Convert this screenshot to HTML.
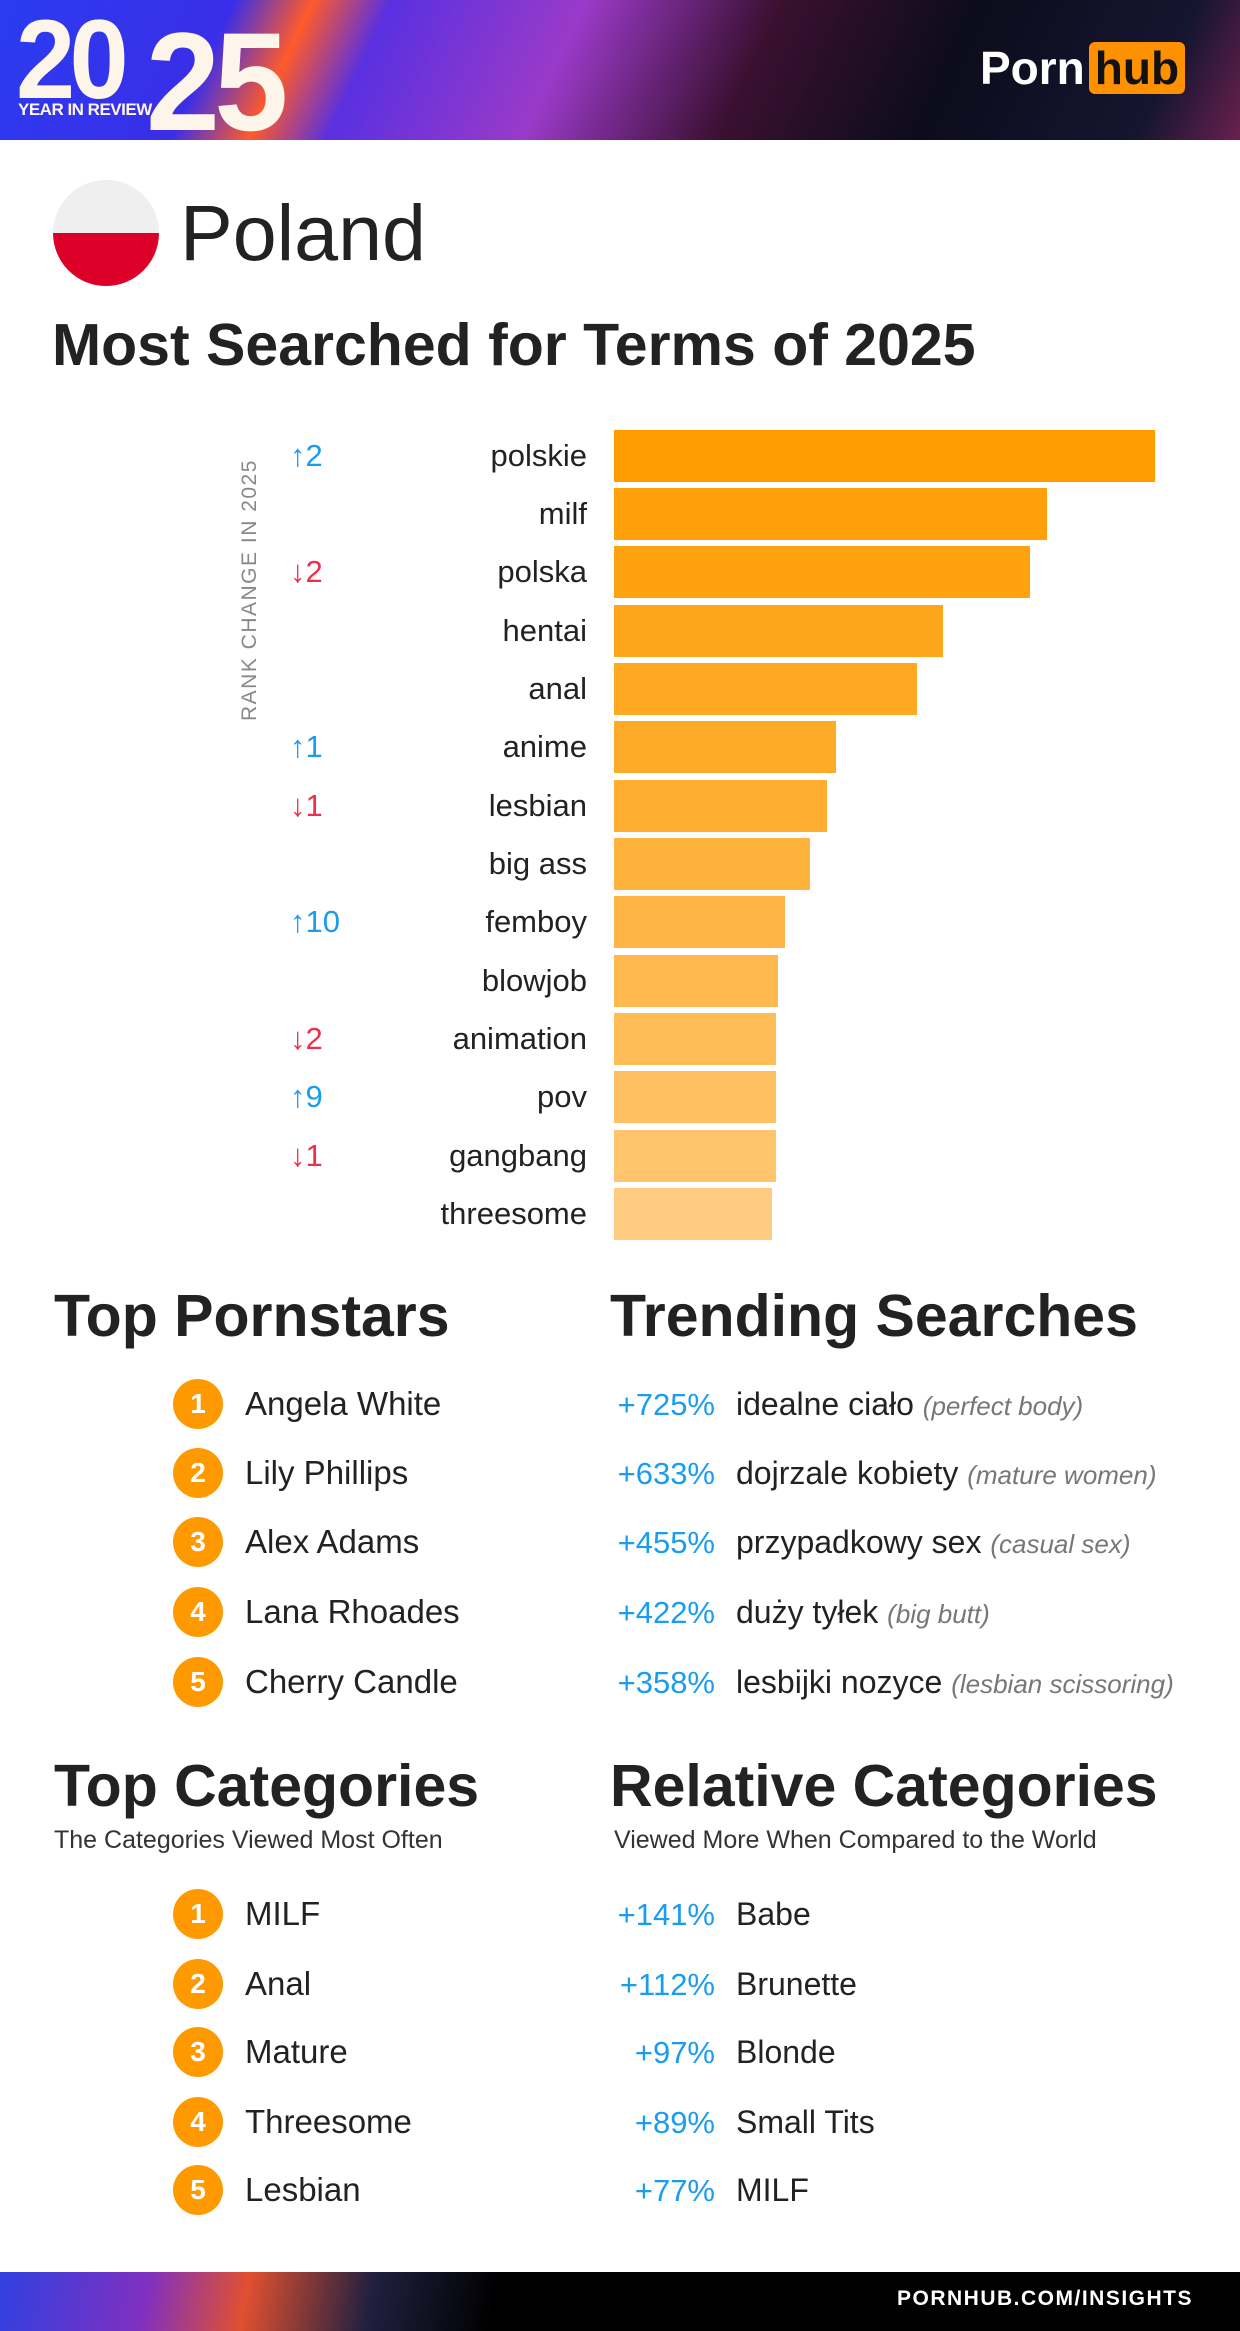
<!DOCTYPE html>
<html><head><meta charset="utf-8"><style>
*{margin:0;padding:0;box-sizing:border-box}
body{width:1240px;height:2331px;background:#fff;font-family:"Liberation Sans",sans-serif;color:#222;position:relative;overflow:hidden}
.a{position:absolute;white-space:nowrap}
.hdr{position:absolute;left:0;top:0;width:1240px;height:140px;background:linear-gradient(115deg,#2a3cf0 0%,#3a2ee8 18%,#ff5a2a 24%,#5a30e0 30%,#9a3ac8 45%,#3a1030 60%,#0c0c1c 75%,#151530 92%,#6a2050 100%)}
.bar{position:absolute;left:614px;height:52px}
.lbl{position:absolute;right:653px;font-size:31px;line-height:52px;color:#222}
.rc{position:absolute;left:290px;font-size:31px;line-height:52px}
.up{color:#1a9cf0}.dn{color:#f0304a}
.h2{font-size:59px;font-weight:bold;color:#222}
.num{position:absolute;left:173px;width:50px;height:50px;border-radius:50%;background:#ff9900;color:#fff;font-weight:bold;font-size:28px;text-align:center;line-height:50px}
.it{font-size:33px}
.pc{position:absolute;right:525px;font-size:31px;color:#1a9cf0}
.tm{position:absolute;left:736px;font-size:32px}
.tm i{font-size:26px;color:#777}
.lg{font-weight:bold;color:#fdf5ea;letter-spacing:-6px;transform:scaleX(0.95);transform-origin:left top}
</style></head><body>
<div class="hdr"></div>
<div class="a lg" style="left:16px;top:10px;font-size:112px;line-height:100px">20</div>
<div class="a lg" style="left:146px;top:18px;font-size:140px;line-height:128px">25</div>
<div class="a" style="left:18px;top:100px;font-size:17px;font-weight:bold;color:#fdf5ea;letter-spacing:-0.5px">YEAR IN REVIEW</div>
<div class="a" style="left:980px;top:40px;font-size:46px;font-weight:bold;color:#fff;line-height:56px">Porn<span style="background:#ff9000;color:#111;border-radius:6px;padding:0 6px;margin-left:4px">hub</span></div>

<div class="a" style="left:53px;top:180px;width:106px;height:106px;border-radius:50%;overflow:hidden"><div style="height:53px;background:#efefef"></div><div style="height:53px;background:#dc0028"></div></div>
<div class="a" style="left:180px;top:188px;font-size:79px;color:#222;line-height:90px">Poland</div>
<div class="a" style="left:52px;top:310px;font-size:59px;font-weight:bold;line-height:70px">Most Searched for Terms of 2025</div>

<div class="a" style="left:238px;top:721px;transform:rotate(-90deg);transform-origin:left top;font-size:21px;color:#888;letter-spacing:1.5px;width:280px">RANK CHANGE IN 2025</div>

<div class="bar" style="top:430px;width:541px;background:#ff9c00"></div><div class="lbl" style="top:430px">polskie</div><div class="rc up" style="top:430px">↑2</div>
<div class="bar" style="top:488px;width:433px;background:#ff9f0a"></div><div class="lbl" style="top:488px">milf</div>
<div class="bar" style="top:546px;width:416px;background:#ffa210"></div><div class="lbl" style="top:546px">polska</div><div class="rc dn" style="top:546px">↓2</div>
<div class="bar" style="top:605px;width:329px;background:#ffa51a"></div><div class="lbl" style="top:605px">hentai</div>
<div class="bar" style="top:663px;width:303px;background:#ffa822"></div><div class="lbl" style="top:663px">anal</div>
<div class="bar" style="top:721px;width:222px;background:#ffab2a"></div><div class="lbl" style="top:721px">anime</div><div class="rc up" style="top:721px">↑1</div>
<div class="bar" style="top:780px;width:213px;background:#ffae32"></div><div class="lbl" style="top:780px">lesbian</div><div class="rc dn" style="top:780px">↓1</div>
<div class="bar" style="top:838px;width:196px;background:#ffb23c"></div><div class="lbl" style="top:838px">big ass</div>
<div class="bar" style="top:896px;width:171px;background:#ffb545"></div><div class="lbl" style="top:896px">femboy</div><div class="rc up" style="top:896px">↑10</div>
<div class="bar" style="top:955px;width:164px;background:#ffb94e"></div><div class="lbl" style="top:955px">blowjob</div>
<div class="bar" style="top:1013px;width:162px;background:#ffbd58"></div><div class="lbl" style="top:1013px">animation</div><div class="rc dn" style="top:1013px">↓2</div>
<div class="bar" style="top:1071px;width:162px;background:#ffc062"></div><div class="lbl" style="top:1071px">pov</div><div class="rc up" style="top:1071px">↑9</div>
<div class="bar" style="top:1130px;width:162px;background:#ffc46c"></div><div class="lbl" style="top:1130px">gangbang</div><div class="rc dn" style="top:1130px">↓1</div>
<div class="bar" style="top:1188px;width:158px;background:#ffcb80"></div><div class="lbl" style="top:1188px">threesome</div>

<div class="a h2" style="left:54px;top:1282px">Top Pornstars</div>
<div class="a h2" style="left:610px;top:1282px">Trending Searches</div>

<div class="num" style="top:1379px">1</div><div class="a it" style="left:245px;top:1385px">Angela White</div>
<div class="num" style="top:1448px">2</div><div class="a it" style="left:245px;top:1454px">Lily Phillips</div>
<div class="num" style="top:1517px">3</div><div class="a it" style="left:245px;top:1523px">Alex Adams</div>
<div class="num" style="top:1587px">4</div><div class="a it" style="left:245px;top:1593px">Lana Rhoades</div>
<div class="num" style="top:1657px">5</div><div class="a it" style="left:245px;top:1663px">Cherry Candle</div>

<div class="pc" style="top:1387px">+725%</div><div class="a tm" style="top:1386px">idealne ciało <i>(perfect body)</i></div>
<div class="pc" style="top:1456px">+633%</div><div class="a tm" style="top:1455px">dojrzale kobiety <i>(mature women)</i></div>
<div class="pc" style="top:1525px">+455%</div><div class="a tm" style="top:1524px">przypadkowy sex <i>(casual sex)</i></div>
<div class="pc" style="top:1595px">+422%</div><div class="a tm" style="top:1594px">duży tyłek <i>(big butt)</i></div>
<div class="pc" style="top:1665px">+358%</div><div class="a tm" style="top:1664px">lesbijki nozyce <i>(lesbian scissoring)</i></div>

<div class="a h2" style="left:54px;top:1752px">Top Categories</div>
<div class="a" style="left:54px;top:1826px;font-size:25px;color:#333">The Categories Viewed Most Often</div>
<div class="a h2" style="left:610px;top:1752px">Relative Categories</div>
<div class="a" style="left:614px;top:1826px;font-size:25px;color:#333">Viewed More When Compared to the World</div>

<div class="num" style="top:1889px">1</div><div class="a it" style="left:245px;top:1895px">MILF</div>
<div class="num" style="top:1959px">2</div><div class="a it" style="left:245px;top:1965px">Anal</div>
<div class="num" style="top:2027px">3</div><div class="a it" style="left:245px;top:2033px">Mature</div>
<div class="num" style="top:2097px">4</div><div class="a it" style="left:245px;top:2103px">Threesome</div>
<div class="num" style="top:2165px">5</div><div class="a it" style="left:245px;top:2171px">Lesbian</div>

<div class="pc" style="top:1897px">+141%</div><div class="a tm" style="top:1896px">Babe</div>
<div class="pc" style="top:1967px">+112%</div><div class="a tm" style="top:1966px">Brunette</div>
<div class="pc" style="top:2035px">+97%</div><div class="a tm" style="top:2034px">Blonde</div>
<div class="pc" style="top:2105px">+89%</div><div class="a tm" style="top:2104px">Small Tits</div>
<div class="pc" style="top:2173px">+77%</div><div class="a tm" style="top:2172px">MILF</div>

<div class="a" style="left:0;top:2272px;width:1240px;height:59px;background:linear-gradient(100deg,#3040e0 0%,#8030c0 12%,#e05030 20%,#202040 30%,#000 40%,#000 100%)"></div>
<div class="a" style="right:47px;top:2287px;font-size:21px;font-weight:bold;color:#fff;letter-spacing:1.5px">PORNHUB.COM/INSIGHTS</div>
</body></html>
